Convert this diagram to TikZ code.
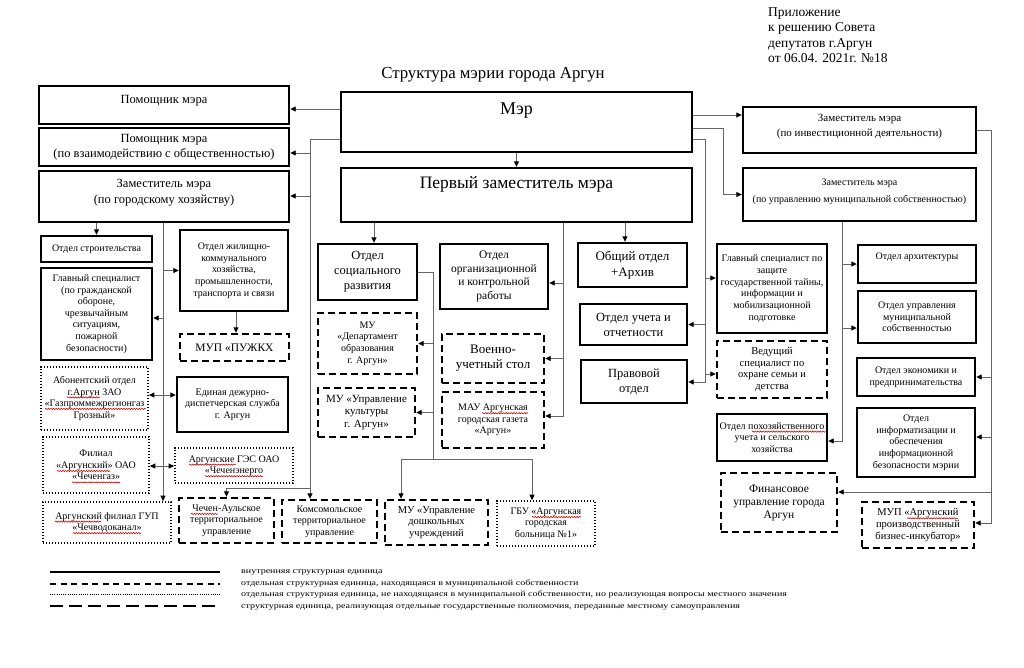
\documentclass[tikz,border=0pt]{standalone}
\usepackage{fontspec}
\setmainfont{Liberation Serif}
\usetikzlibrary{arrows.meta,decorations.pathmorphing,calc}
\newcommand\fs[2]{\fontsize{#1}{#2}\selectfont}
\newcommand\bx[8][]{%
  \node[#3, minimum width={#6-#4}, minimum height={#7-#5}, inner sep=0pt] (#2) at ({(#4+#6)/2},{(#5+#7)/2}) {};
  \node[txt,#1] (#2t) at (#2.center) {#8};}
% red spell-check wave under a word: node, drop below node top, x from, x to
\newcommand\spl[4]{\draw[spell] let \p1=(#1.north) in (#3pt,\y1-#2pt) -- (#4pt,\y1-#2pt);}
\tikzset{
  solidbox/.style={draw=black, line width=2.4pt},
  dashbox/.style={draw=black, line width=2.4pt, dash pattern=on 7pt off 4pt},
  dotbox/.style={draw=black, line width=1.7pt, dash pattern=on 1.4pt off 1.6pt},
  txt/.style={align=center, inner sep=0pt, font=\fs{10}{11.7}},
  conn/.style={draw=black!60, line width=0.9pt},
  arr/.style={conn, -{Triangle[length=5.5pt,width=5pt,color=black]}},
  darr/.style={conn, {Triangle[length=5.5pt,width=5pt,color=black]}-{Triangle[length=5.5pt,width=5pt,color=black]}},
  spell/.style={draw=red!85!black, line width=0.6pt, decorate, decoration={snake, amplitude=0.6pt, segment length=2.6pt}},
}
\begin{document}
\begin{tikzpicture}[x=1pt,y=-1pt]
\useasboundingbox (0,0) rectangle (1024,667);
\fill[white] (0,0) rectangle (1024,667);

% header
\node[anchor=north west, align=left, inner sep=0pt, font=\fs{13.5}{15.5}] (app) at (768,7)
  {Приложение\\к решению Совета\\депутатов г.Аргун\\от 06.04. 2021г. №18};
\node[inner sep=0pt, font=\fs{16.8}{19}] (title) at (493,75) {Структура мэрии города Аргун};

% top level
\bx[font=\fs{18}{20}, yshift=11pt]{mayor}{solidbox}{341}{92}{692}{152}{Мэр}
\bx[font=\fs{17.5}{20}, yshift=11pt]{perv}{solidbox}{341}{168}{692}{222}{Первый заместитель мэра}
\bx[font=\fs{12.5}{15}, yshift=4pt]{pom1}{solidbox}{39}{86}{289}{124}{Помощник мэра}
\bx[font=\fs{12.5}{15}]{pom2}{solidbox}{39}{128}{289}{166}{Помощник мэра\\(по взаимодействию с общественностью)}
\bx[font=\fs{12.5}{15.5}, yshift=4pt]{zamgh}{solidbox}{39}{171}{289}{222}{Заместитель мэра\\(по городскому хозяйству)}
\bx[font=\fs{11}{15}, yshift=3pt]{zaminv}{solidbox}{743}{107}{976}{153}{Заместитель мэра\\(по инвестиционной деятельности)}
\bx[font=\fs{10}{17}, yshift=3pt]{zammun}{solidbox}{743}{168}{976}{221}{Заместитель мэра\\(по управлению муниципальной собственностью)}

% left column
\bx{stroi}{solidbox}{41}{236}{152}{262}{Отдел строительства}
\bx[font=\fs{10}{11.6}]{glgo}{solidbox}{41}{268}{152}{360}{Главный специалист\\(по гражданской\\обороне,\\чрезвычайным\\ситуациям,\\пожарной\\безопасности)}
\bx[font=\fs{10}{11.5}]{abon}{dotbox}{41}{367}{148}{430}{Абонентский отдел\\г.Аргун ЗАО\\«Газпроммежрегионгаз\\Грозный»}
\bx[font=\fs{10}{11.5}]{filial}{dotbox}{43}{437}{149}{493}{Филиал\\«Аргунский» ОАО\\«Чеченгаз»}
\bx[font=\fs{10}{11.5}]{gup}{dotbox}{43}{502}{171}{543}{Аргунский филиал ГУП\\«Чечводоканал»}
\bx[font=\fs{10}{11.7}]{zhil}{solidbox}{180}{230}{288}{311}{Отдел жилищно-\\коммунального\\хозяйства,\\промышленности,\\транспорта и связи}
\bx[font=\fs{11.5}{13}]{puzh}{dashbox}{180}{334}{289}{361}{МУП «ПУЖКХ}
\bx[font=\fs{10}{11.7}]{ed}{solidbox}{177}{377}{288}{432}{Единая дежурно-\\диспетчерская служба\\г. Аргун}
\bx[font=\fs{10}{11.5}]{ges}{dotbox}{175}{448}{293}{483}{Аргунские ГЭС ОАО\\«Чеченэнерго}
\bx[font=\fs{10}{11.5}]{chech}{dashbox}{179}{498}{274}{543}{Чечен-Аульское\\территориальное\\управление}
\bx[font=\fs{10}{11.5}]{kom}{dashbox}{282}{500}{377}{543}{Комсомольское\\территориальное\\управление}

% middle
\bx[font=\fs{12.5}{15}]{soc}{solidbox}{318}{244}{417}{300}{Отдел\\социального\\развития}
\bx[font=\fs{11.5}{13.5}]{org}{solidbox}{440}{244}{548}{309}{Отдел\\организационной\\и контрольной\\работы}
\bx[font=\fs{13}{16}]{obsh}{solidbox}{578}{243}{687}{287}{Общий отдел\\+Архив}
\bx[font=\fs{10}{11.7}]{dep}{dashbox}{318}{313}{417}{374}{МУ\\«Департамент\\образования\\г. Аргун»}
\bx[font=\fs{13}{15}]{voen}{dashbox}{442}{334}{544}{383}{Военно-\\учетный стол}
\bx[font=\fs{12.5}{15}]{uch}{solidbox}{580}{304}{687}{345}{Отдел учета и\\отчетности}
\bx[font=\fs{11}{12.5}]{kult}{dashbox}{318}{388}{415}{437}{МУ «Управление\\культуры\\г. Аргун»}
\bx[font=\fs{10}{11.7}]{mau}{dashbox}{442}{392}{544}{448}{МАУ Аргунская\\городская газета\\«Аргун»}
\bx[font=\fs{12.5}{15}]{prav}{solidbox}{581}{360}{687}{403}{Правовой\\отдел}
\bx[font=\fs{10.5}{11.5}]{doshk}{dashbox}{385}{500}{488}{545}{МУ «Управление\\дошкольных\\учреждений}
\bx[font=\fs{10}{11.5}]{gbu}{dotbox}{497}{501}{595}{546}{ГБУ «Аргунская\\городская\\больница №1»}

% right
\bx[font=\fs{10}{11.9}]{glsz}{solidbox}{717}{244}{827}{333}{Главный специалист по\\защите\\государственной тайны,\\информации и\\мобилизационной\\подготовке}
\bx[font=\fs{10.5}{11.5}]{ved}{dashbox}{717}{341}{827}{398}{Ведущий\\специалист по\\охране семьи и\\детства}
\bx[font=\fs{10}{11.7}]{poh}{solidbox}{717}{414}{827}{461}{Отдел похозяйственного\\учета и сельского\\хозяйства}
\bx[font=\fs{11.5}{13}]{fin}{dashbox}{721}{473}{837}{532}{Финансовое\\управление города\\Аргун}
\bx[font=\fs{10}{11.7}, yshift=7pt]{arch}{solidbox}{858}{245}{976}{283}{Отдел архитектуры}
\bx[font=\fs{10}{11.7}]{upr}{solidbox}{858}{291}{976}{343}{Отдел управления\\муниципальной\\собственностью}
\bx[font=\fs{10}{11.7}]{econ}{solidbox}{857}{358}{975}{396}{Отдел экономики и\\предпринимательства}
\bx[font=\fs{10}{11.7}]{inf}{solidbox}{857}{408}{975}{477}{Отдел\\информатизации и\\обеспечения\\информационной\\безопасности мэрии}
\bx[font=\fs{10.5}{11.7}]{mup}{dashbox}{862}{502}{974}{548}{МУП «Аргунский\\производственный\\бизнес-инкубатор»}

% spell-check underlines
\spl{abont}{21}{67}{100}
\spl{abont}{32.5}{45}{146}
\spl{filialt}{21}{57}{110}
\spl{filialt}{32.5}{72}{120}
\spl{gupt}{9.5}{55}{101}
\spl{gupt}{21}{73}{141}
\spl{gest}{9.5}{189}{236}
\spl{gest}{21}{205}{263}
\spl{checht}{9.5}{191}{218}
\spl{maut}{9.5}{482}{528}
\spl{gbut}{9.5}{532}{581}
\spl{poht}{9.5}{752}{826}
\spl{mupt}{9.9}{907}{958}

% ---------- connectors ----------
% mayor
\draw[arr] (mayor.west |- 0,109) -- (pom1.east |- 0,109);
\coordinate (tl) at (310,139);
\draw[arr] (mayor.west |- tl) -| (tl |- kom.north);
\draw[arr] (tl |- 0,153) -- (pom2.east |- 0,153);
\draw[arr] (tl |- 0,196) -- (zamgh.east |- 0,196);
\draw[arr] (tl |- 0,488) -| (chech.north);
\draw[arr] (mayor.south) -- (perv.north);
\draw[arr] (mayor.east |- 0,115) -- (zaminv.west |- 0,115);
\draw[arr] (mayor.east |- 0,128) -- (723,128) |- (zammun.west);
\coordinate (tr) at (705,139);
\draw[arr] (mayor.east |- tr) -| (705,382) -- (prav.east |- 0,382);
\draw[arr] (tr |- 0,278) -- (glsz.west |- 0,278);
\draw[arr] (tr |- uch.east) -- (uch.east);
\draw[arr] (tr |- 0,374) -- (ved.west |- 0,374);

% first deputy
\draw[arr] (perv.south -| 374,0) -- (soc.north -| 374,0);
\draw[arr] (perv.south -| 625,0) -- (obsh.north -| 625,0);
\coordinate (tp) at (563,416);
\draw[arr] (perv.south -| tp) -- (tp) -- (mau.east |- tp);
\draw[arr] (tp |- 0,283) -- (org.east |- 0,283);
\draw[arr] (tp |- voen.east) -- (voen.east);

% social development
\coordinate (ts) at (433,459);
\draw[conn] (soc.east) -| (ts);
\draw[arr] (ts |- dep.east) -- (dep.east);
\draw[arr] (ts |- kult.east) -- (kult.east);
\draw[arr] (ts) -| (doshk.north -| 401,0);
\draw[arr] (ts) -| (gbu.north -| 532,0);

% city economy deputy
\draw[arr] (zamgh.south -| stroi.north) -- (stroi.north);
\coordinate (tg) at (163,499);
\draw[arr] (zamgh.south -| tg) -- (gup.north -| tg);
\draw[arr] (tg |- zhil.west) -- (zhil.west);
\draw[arr] (tg |- 0,318) -- (glgo.east |- 0,318);
\draw[darr] (abon.east |- 0,395) -- (ed.west |- 0,395);
\draw[darr] (filial.east |- 0,466) -- (ges.west |- 0,466);
\draw[arr] (zhil.south -| 236,0) -- (puzh.north -| 236,0);

% investment deputy
\coordinate (ti) at (991,523);
\draw[arr] (zaminv.east |- 0,130) -| (ti) -- (mup.east |- ti);
\draw[arr] (ti |- econ.east) -- (econ.east);
\draw[arr] (ti |- 0,437) -- (inf.east |- 0,437);
\draw[arr] (ti |- 0,492) -- (fin.east |- 0,492);

% municipal property deputy
\coordinate (tm) at (842,441);
\draw[arr] (zammun.south -| tm) -- (tm) -- (poh.east |- tm);
\draw[arr] (tm |- arch.west) -- (arch.west);
\draw[arr] (tm |- 0,328) -- (upr.west |- 0,328);

% ---------- legend ----------
\coordinate (l1a) at (50,572); \coordinate (l1b) at (220,572);
\coordinate (l2a) at (50,584); \coordinate (l2b) at (220,584);
\coordinate (l3a) at (50,594); \coordinate (l3b) at (220,594);
\coordinate (l4a) at (50,606); \coordinate (l4b) at (220,606);
\draw[line width=2.2pt] (l1a) -- (l1b);
\draw[line width=2.2pt, dash pattern=on 6pt off 4.5pt] (l2a) -- (l2b);
\draw[line width=1pt, dash pattern=on 1pt off 1.2pt] (l3a) -- (l3b);
\draw[line width=2.6pt, dash pattern=on 13pt off 6pt] (l4a) -- (l4b);
\tikzset{legt/.style={anchor=west, inner sep=0pt, font=\fs{8}{9}}}
\node[legt] (lt1) at (241,572) {\scalebox{1.25}[1]{внутренняя структурная единица}};
\node[legt] (lt2) at (241,583) {\scalebox{1.25}[1]{отдельная структурная единица, находящаяся в муниципальной собственности}};
\node[legt] (lt3) at (241,594.5) {\scalebox{1.25}[1]{отдельная структурная единица, не находящаяся в муниципальной собственности, но реализующая вопросы местного значения}};
\node[legt] (lt4) at (241,607) {\scalebox{1.25}[1]{структурная единица, реализующая отдельные государственные полномочия, переданные местному самоуправления}};
\end{tikzpicture}
\end{document}
